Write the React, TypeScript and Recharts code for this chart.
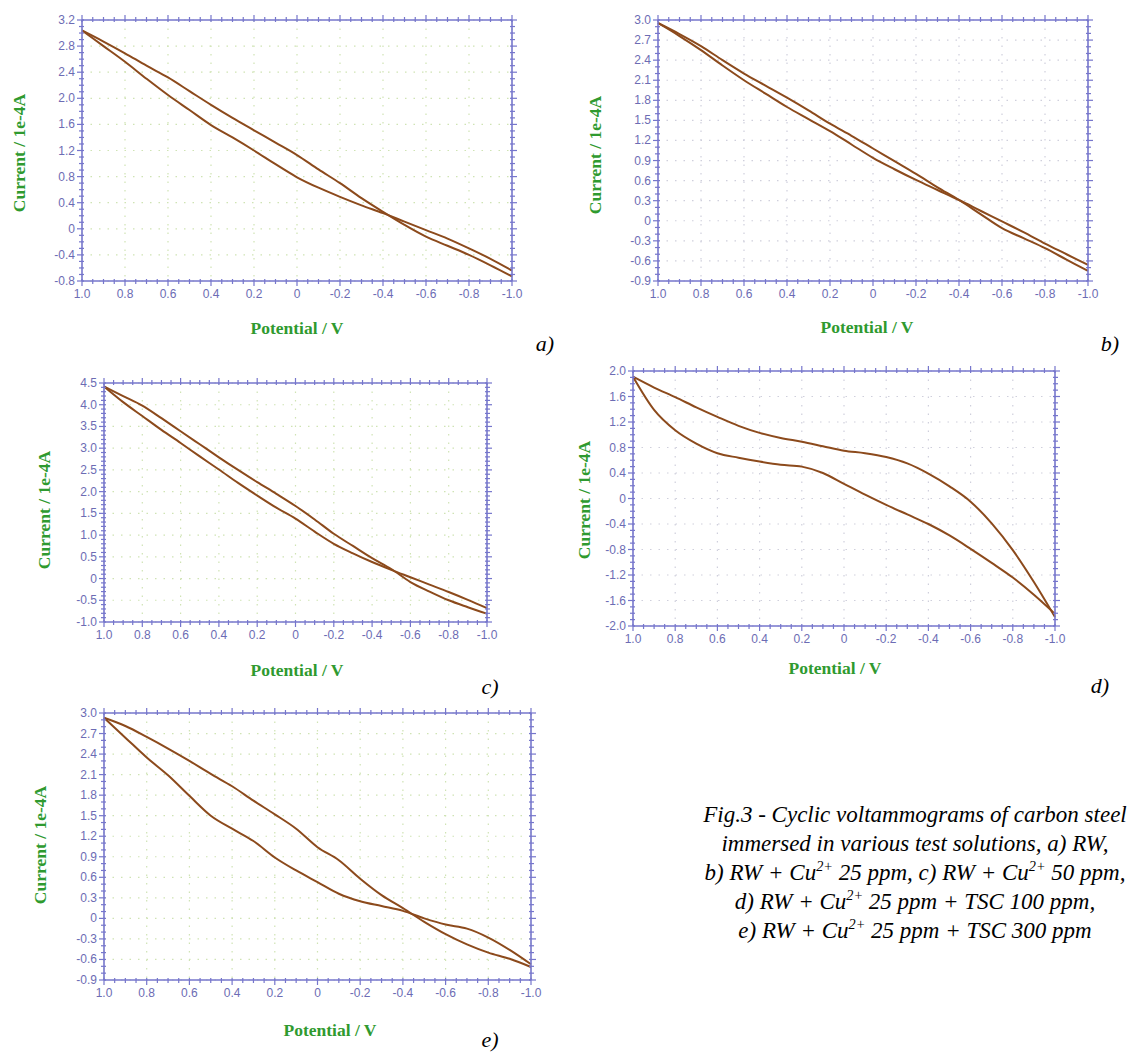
import React from "react";
import { LineChart, Line, XAxis, YAxis, CartesianGrid } from "recharts";

// potential sweep, 1.0 V -> -1.0 V
const POTENTIAL = [1.0, 0.9, 0.8, 0.7, 0.6, 0.5, 0.4, 0.3, 0.2, 0.1, 0, -0.1, -0.2, -0.3, -0.4, -0.5, -0.6, -0.7, -0.8, -0.9, -1.0];
const X_TICKS = [1.0, 0.8, 0.6, 0.4, 0.2, 0, -0.2, -0.4, -0.6, -0.8, -1.0];

// a) RW
const A_UPPER = [3.04, 2.87, 2.69, 2.5, 2.32, 2.11, 1.9, 1.7, 1.51, 1.32, 1.13, 0.91, 0.7, 0.47, 0.26, 0.06, -0.12, -0.26, -0.4, -0.56, -0.73];
const A_LOWER = [3.04, 2.8, 2.56, 2.3, 2.05, 1.82, 1.59, 1.4, 1.2, 0.99, 0.79, 0.63, 0.49, 0.36, 0.24, 0.11, -0.02, -0.15, -0.3, -0.46, -0.64];
const A_Y_TICKS = [3.2, 2.8, 2.4, 2.0, 1.6, 1.2, 0.8, 0.4, 0, -0.4, -0.8];

// b) RW + Cu 25 ppm
const B_UPPER = [2.955, 2.79, 2.61, 2.4, 2.2, 2.02, 1.84, 1.65, 1.45, 1.27, 1.08, 0.89, 0.7, 0.5, 0.31, 0.1, -0.11, -0.26, -0.41, -0.58, -0.75];
const B_LOWER = [2.955, 2.76, 2.55, 2.32, 2.1, 1.9, 1.7, 1.52, 1.34, 1.14, 0.94, 0.77, 0.61, 0.46, 0.31, 0.15, -0.01, -0.17, -0.34, -0.5, -0.66];
const B_Y_TICKS = [3.0, 2.7, 2.4, 2.1, 1.8, 1.5, 1.2, 0.9, 0.6, 0.3, 0, -0.3, -0.6, -0.9];

// c) RW + Cu 50 ppm
const C_UPPER = [4.42, 4.2, 3.98, 3.69, 3.39, 3.09, 2.79, 2.5, 2.22, 1.95, 1.67, 1.36, 1.03, 0.75, 0.47, 0.22, -0.08, -0.3, -0.5, -0.66, -0.81];
const C_LOWER = [4.42, 4.06, 3.74, 3.42, 3.12, 2.81, 2.51, 2.2, 1.91, 1.63, 1.38, 1.08, 0.8, 0.58, 0.38, 0.2, 0.03, -0.14, -0.31, -0.49, -0.68];
const C_Y_TICKS = [4.5, 4.0, 3.5, 3.0, 2.5, 2.0, 1.5, 1.0, 0.5, 0, -0.5, -1.0];

// d) RW + Cu 25 ppm + TSC 100 ppm
const D_UPPER = [1.91, 1.74, 1.59, 1.43, 1.28, 1.14, 1.03, 0.95, 0.89, 0.82, 0.75, 0.71, 0.65, 0.55, 0.39, 0.19, -0.05, -0.39, -0.81, -1.31, -1.86];
const D_LOWER = [1.91, 1.39, 1.07, 0.86, 0.71, 0.64, 0.58, 0.53, 0.5, 0.4, 0.23, 0.06, -0.1, -0.25, -0.4, -0.58, -0.79, -1.01, -1.24, -1.51, -1.81];
const D_Y_TICKS = [2.0, 1.6, 1.2, 0.8, 0.4, 0, -0.4, -0.8, -1.2, -1.6, -2.0];

// e) RW + Cu 25 ppm + TSC 300 ppm
const E_UPPER = [2.93, 2.81, 2.65, 2.48, 2.3, 2.11, 1.93, 1.72, 1.52, 1.31, 1.04, 0.85, 0.58, 0.34, 0.15, -0.05, -0.23, -0.38, -0.5, -0.59, -0.71];
const E_LOWER = [2.93, 2.64, 2.35, 2.09, 1.79, 1.5, 1.31, 1.13, 0.89, 0.7, 0.53, 0.36, 0.25, 0.18, 0.11, 0, -0.09, -0.15, -0.28, -0.46, -0.67];
const E_Y_TICKS = [3.0, 2.7, 2.4, 2.1, 1.8, 1.5, 1.2, 0.9, 0.6, 0.3, 0, -0.3, -0.6, -0.9];

const AXIS = "#7676cc";
const TICK_TEXT = "#6c6cb4";
const TITLE = "#2f9a2f";
const CURVE = "#8c4a1c";
const SERIF = "'Liberation Serif', 'Times New Roman', Times, serif";

const LEFT_W = 40;
const RIGHT_W = 22;
const TOP_H = 8;
const BOTTOM_H = 30;

const fmt = (v: number) => (Math.abs(v) < 1e-9 ? "0" : v.toFixed(1));
const isIn = (v: number, list: number[]) => list.some((t) => Math.abs(t - v) < 1e-6);

// split each major interval into n minor steps
function subdivide(majors: number[], n: number) {
  const out: number[] = [];
  for (let i = 0; i < majors.length - 1; i++) {
    for (let k = 0; k < n; k++) {
      out.push(+(majors[i] + ((majors[i + 1] - majors[i]) * k) / n).toFixed(4));
    }
  }
  out.push(majors[majors.length - 1]);
  return out;
}

const X_MINOR = subdivide(X_TICKS, 4);

function XTick(props: any) {
  const { x, y, payload, majors, side } = props;
  const major = isIn(payload.value, majors);
  const dir = side === "top" ? -1 : 1;
  const len = major ? 5 : 3;
  return (
    <g>
      <line x1={x} x2={x} y1={y - dir * 2} y2={y + dir * len} stroke={AXIS} strokeWidth={1.2} />
      {major && side !== "top" && (
        <text x={x} y={y + 17} textAnchor="middle" fill={TICK_TEXT} fontSize={12} fontFamily="'Liberation Sans', Arial, sans-serif">
          {fmt(payload.value)}
        </text>
      )}
    </g>
  );
}

function YTick(props: any) {
  const { x, y, payload, majors, side } = props;
  const major = isIn(payload.value, majors);
  const dir = side === "right" ? 1 : -1;
  const len = major ? 5 : 3;
  return (
    <g>
      <line x1={x - dir * 2} x2={x + dir * len} y1={y} y2={y} stroke={AXIS} strokeWidth={1.2} />
      {major && side !== "right" && (
        <text x={x - 7} y={y + 4} textAnchor="end" fill={TICK_TEXT} fontSize={12} fontFamily="'Liberation Sans', Arial, sans-serif">
          {fmt(payload.value)}
        </text>
      )}
    </g>
  );
}

interface PanelProps {
  plot: { x: number; y: number; w: number; h: number };
  upper: number[];
  lower: number[];
  yTicks: number[];
  yMinor: number;
  grid: string;
  yLabel: { x: number; y: number };
  xLabel: { x: number; y: number };
  tag: { x: number; y: number; text: string };
}

function Panel({ plot, upper, lower, yTicks, yMinor, grid, yLabel, xLabel, tag }: PanelProps) {
  const data = POTENTIAL.map((p, i) => ({ x: p, up: upper[i], low: lower[i] }));
  const yMinorTicks = subdivide(yTicks, yMinor);
  const yDomain = [yTicks[yTicks.length - 1], yTicks[0]];
  const width = plot.w + LEFT_W + RIGHT_W;
  const height = plot.h + TOP_H + BOTTOM_H;
  return (
    <>
      <div style={{ position: "absolute", left: plot.x - LEFT_W, top: plot.y - TOP_H }}>
        <LineChart width={width} height={height} data={data} margin={{ top: 0, right: 0, bottom: 0, left: 0 }}>
          <CartesianGrid
            stroke={grid}
            strokeDasharray="1.5 7"
            strokeWidth={1.2}
            horizontalValues={yTicks}
            verticalValues={X_TICKS}
          />
          <XAxis
            dataKey="x"
            type="number"
            domain={[-1, 1]}
            reversed
            ticks={X_MINOR}
            interval={0}
            height={BOTTOM_H}
            tickSize={0}
            tickMargin={0}
            tickLine={false}
            axisLine={{ stroke: AXIS, strokeWidth: 1.6 }}
            tick={(p: any) => <XTick {...p} majors={X_TICKS} side="bottom" />}
          />
          <XAxis
            xAxisId="top"
            orientation="top"
            dataKey="x"
            type="number"
            domain={[-1, 1]}
            reversed
            ticks={X_MINOR}
            interval={0}
            height={TOP_H}
            tickSize={0}
            tickMargin={0}
            tickLine={false}
            axisLine={{ stroke: AXIS, strokeWidth: 1.6 }}
            tick={(p: any) => <XTick {...p} majors={X_TICKS} side="top" />}
          />
          <YAxis
            type="number"
            domain={yDomain}
            ticks={yMinorTicks}
            interval={0}
            width={LEFT_W}
            tickSize={0}
            tickMargin={0}
            tickLine={false}
            allowDataOverflow
            axisLine={{ stroke: AXIS, strokeWidth: 1.6 }}
            tick={(p: any) => <YTick {...p} majors={yTicks} side="left" />}
          />
          <YAxis
            yAxisId="right"
            orientation="right"
            type="number"
            domain={yDomain}
            ticks={yMinorTicks}
            interval={0}
            width={RIGHT_W}
            tickSize={0}
            tickMargin={0}
            tickLine={false}
            allowDataOverflow
            axisLine={{ stroke: AXIS, strokeWidth: 1.6 }}
            tick={(p: any) => <YTick {...p} majors={yTicks} side="right" />}
          />
          <Line type="monotone" dataKey="up" stroke={CURVE} strokeWidth={2} dot={false} isAnimationActive={false} />
          <Line type="monotone" dataKey="low" stroke={CURVE} strokeWidth={2} dot={false} isAnimationActive={false} />
        </LineChart>
      </div>
      <div
        style={{
          position: "absolute",
          left: yLabel.x,
          top: yLabel.y,
          transform: "translate(-50%, -50%) rotate(-90deg)",
          whiteSpace: "nowrap",
          color: TITLE,
          fontFamily: SERIF,
          fontWeight: "bold",
          fontSize: 17.5,
        }}
      >
        Current / 1e-4A
      </div>
      <div
        style={{
          position: "absolute",
          left: xLabel.x,
          top: xLabel.y,
          transform: "translate(-50%, -50%)",
          whiteSpace: "nowrap",
          color: TITLE,
          fontFamily: SERIF,
          fontWeight: "bold",
          fontSize: 17.5,
        }}
      >
        Potential / V
      </div>
      <div
        style={{
          position: "absolute",
          left: tag.x,
          top: tag.y,
          transform: "translate(-50%, -50%)",
          fontFamily: SERIF,
          fontStyle: "italic",
          fontSize: 22,
          color: "#000",
        }}
      >
        {tag.text}
      </div>
    </>
  );
}

const sup = (s: string) => <sup style={{ fontSize: "0.62em", lineHeight: 0 }}>{s}</sup>;

export default function App() {
  return (
    <div
      style={{
        position: "absolute",
        left: 0,
        top: 0,
        width: 1129,
        height: 1057,
        background: "#fff",
        overflow: "hidden",
      }}
    >
      <Panel
        plot={{ x: 82, y: 20, w: 430, h: 261 }}
        upper={A_UPPER}
        lower={A_LOWER}
        yTicks={A_Y_TICKS}
        yMinor={4}
        grid="#cfe3b4"
        yLabel={{ x: 19, y: 153 }}
        xLabel={{ x: 297, y: 328 }}
        tag={{ x: 545, y: 344, text: "a)" }}
      />
      <Panel
        plot={{ x: 658, y: 20, w: 430, h: 261 }}
        upper={B_UPPER}
        lower={B_LOWER}
        yTicks={B_Y_TICKS}
        yMinor={3}
        grid="#cfcfdc"
        yLabel={{ x: 595, y: 155 }}
        xLabel={{ x: 867, y: 327 }}
        tag={{ x: 1110, y: 344, text: "b)" }}
      />
      <Panel
        plot={{ x: 104, y: 383, w: 383, h: 239 }}
        upper={C_UPPER}
        lower={C_LOWER}
        yTicks={C_Y_TICKS}
        yMinor={5}
        grid="#cfe3b4"
        yLabel={{ x: 44, y: 510 }}
        xLabel={{ x: 297, y: 670 }}
        tag={{ x: 490, y: 687, text: "c)" }}
      />
      <Panel
        plot={{ x: 633, y: 371, w: 422, h: 255 }}
        upper={D_UPPER}
        lower={D_LOWER}
        yTicks={D_Y_TICKS}
        yMinor={4}
        grid="#cfcfdc"
        yLabel={{ x: 584, y: 500 }}
        xLabel={{ x: 835, y: 668 }}
        tag={{ x: 1100, y: 686, text: "d)" }}
      />
      <Panel
        plot={{ x: 104, y: 713, w: 427, h: 267 }}
        upper={E_UPPER}
        lower={E_LOWER}
        yTicks={E_Y_TICKS}
        yMinor={3}
        grid="#cfe3b4"
        yLabel={{ x: 40, y: 845 }}
        xLabel={{ x: 330, y: 1030 }}
        tag={{ x: 490, y: 1040, text: "e)" }}
      />
      <div
        style={{
          position: "absolute",
          left: 697,
          top: 800,
          width: 436,
          textAlign: "center",
          fontFamily: SERIF,
          fontStyle: "italic",
          fontSize: 23,
          lineHeight: "29px",
          color: "#000",
        }}
      >
        <div>Fig.3 - Cyclic voltammograms of carbon steel</div>
        <div>immersed in various test solutions, a) RW,</div>
        <div>
          b) RW + Cu{sup("2+")} 25 ppm, c) RW + Cu{sup("2+")} 50 ppm,
        </div>
        <div>d) RW + Cu{sup("2+")} 25 ppm + TSC 100 ppm,</div>
        <div>e) RW + Cu{sup("2+")} 25 ppm + TSC 300 ppm</div>
      </div>
    </div>
  );
}
